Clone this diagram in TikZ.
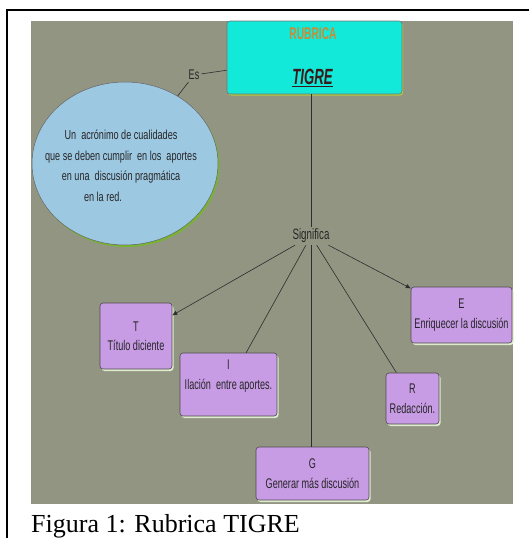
\documentclass[tikz,border=0pt]{standalone}
\usepackage{fontspec}
\setmainfont{Liberation Serif}
\newfontfamily\nar[FakeStretch=0.7]{Liberation Sans}
\newfontfamily\narb[FakeStretch=0.65]{Liberation Sans}
\newfontfamily\cond[FakeStretch=0.6]{Liberation Sans}
\usetikzlibrary{shapes.geometric,shadows,arrows.meta}
\definecolor{bggray}{RGB}{147,149,131}
\definecolor{cyanbox}{RGB}{18,233,216}
\definecolor{ellblue}{RGB}{157,200,226}
\definecolor{purp}{RGB}{200,156,229}
\definecolor{pshadow}{RGB}{222,236,206}
\definecolor{eshadow}{RGB}{120,180,50}
\definecolor{rshadow}{RGB}{180,200,60}
\definecolor{rubtext}{RGB}{200,140,55}
\definecolor{tigtext}{RGB}{60,25,25}
\definecolor{linec}{RGB}{45,45,45}
\begin{document}
\begin{tikzpicture}[x=1pt,y=-1pt,
  txt/.style={font=\narb\fontsize{14}{19}\selectfont, text=black!85, align=center, inner sep=2pt},
  pbox/.style={draw=black!70, line width=0.6pt, rounded corners=3pt, fill=purp,
    drop shadow={fill=pshadow, opacity=1, shadow xshift=1.5pt, shadow yshift=-2pt},
    font=\narb\fontsize{14}{19.5}\selectfont, text=black!85, align=center, inner sep=2pt},
  conn/.style={draw=linec, line width=0.6pt},
  arr/.style={conn, -{Triangle[length=5pt,width=4pt]}}
]
\useasboundingbox (0,0) rectangle (529,538);
% background
\fill[bggray] (31,21) rectangle (513,504);
\draw[line width=2pt] (6.5,538) -- (6.5,10) -- (529,10);

% top box
\node[draw=black!55, line width=0.6pt, rounded corners=3pt, fill=cyanbox,
  drop shadow={fill=rshadow, opacity=1, shadow xshift=1pt, shadow yshift=-1.5pt},
  minimum width=175pt, minimum height=73pt] (rubrica) at (314.5,57.5) {};
\node[font=\cond\bfseries\fontsize{17}{19}\selectfont, text=rubtext] (rubt) at (313,34) {RUBRICA};
\node[font=\cond\bfseries\itshape\fontsize{22}{24}\selectfont, text=tigtext] (tigre) at (312.5,78) {\underline{TIGRE}};

% ellipse
\node[ellipse, draw=black!60, line width=0.5pt, fill=ellblue,
  drop shadow={fill=eshadow, opacity=1, shadow xshift=1.5pt, shadow yshift=-2pt},
  minimum width=186pt, minimum height=163pt] (acr) at (125,163.5) {};
\node[txt, font=\nar\fontsize{13}{20.5}\selectfont] (acrtext) at (121,166)
  {Un\ \ acrónimo de cualidades\\que se deben cumplir\ \ en los\ \ aportes\\en una\ \ discusión pragmática\\en la red.\hspace*{36pt}};

\node[txt] (es) at (194,75) {Es};
\node[txt, font=\narb\fontsize{15}{17}\selectfont, inner ysep=2pt] (significa) at (311,236) {Significa};

% boxes
\node[pbox, minimum width=72pt, minimum height=66pt] (T) at (136,336) {T\\Título diciente};
\node[pbox, minimum width=97pt, minimum height=63pt] (I) at (228.5,384.5) {I\\Ilación\ \ entre aportes.\\\mbox{}};
\node[pbox, minimum width=101pt, minimum height=56pt] (E) at (461.5,315) {E\\Enriquecer la discusión};
\node[pbox, minimum width=53pt, minimum height=51pt] (R) at (412.5,398.5) {R\\Redacción.};
\node[pbox, minimum width=113pt, minimum height=53pt] (G) at (312.5,473.5) {G\\Generar más discusión};

% connectors
\draw[conn] (es) -- (rubrica);
\draw[conn] (es) -- (acr);
\draw[conn] (rubrica.south -| significa) -- (significa);
\draw[conn] (significa) -- (G.north -| significa);
\draw[arr] (significa) -- (T);
\draw[conn] (significa) -- (I);
\draw[conn] (significa) -- (R);
\draw[arr] (significa) -- (E);

% caption
\node[anchor=base west, inner sep=0pt, font=\fontsize{26}{28}\selectfont] (cap) at (31,532) {Figura 1: Rubrica TIGRE};
\end{tikzpicture}
\end{document}
